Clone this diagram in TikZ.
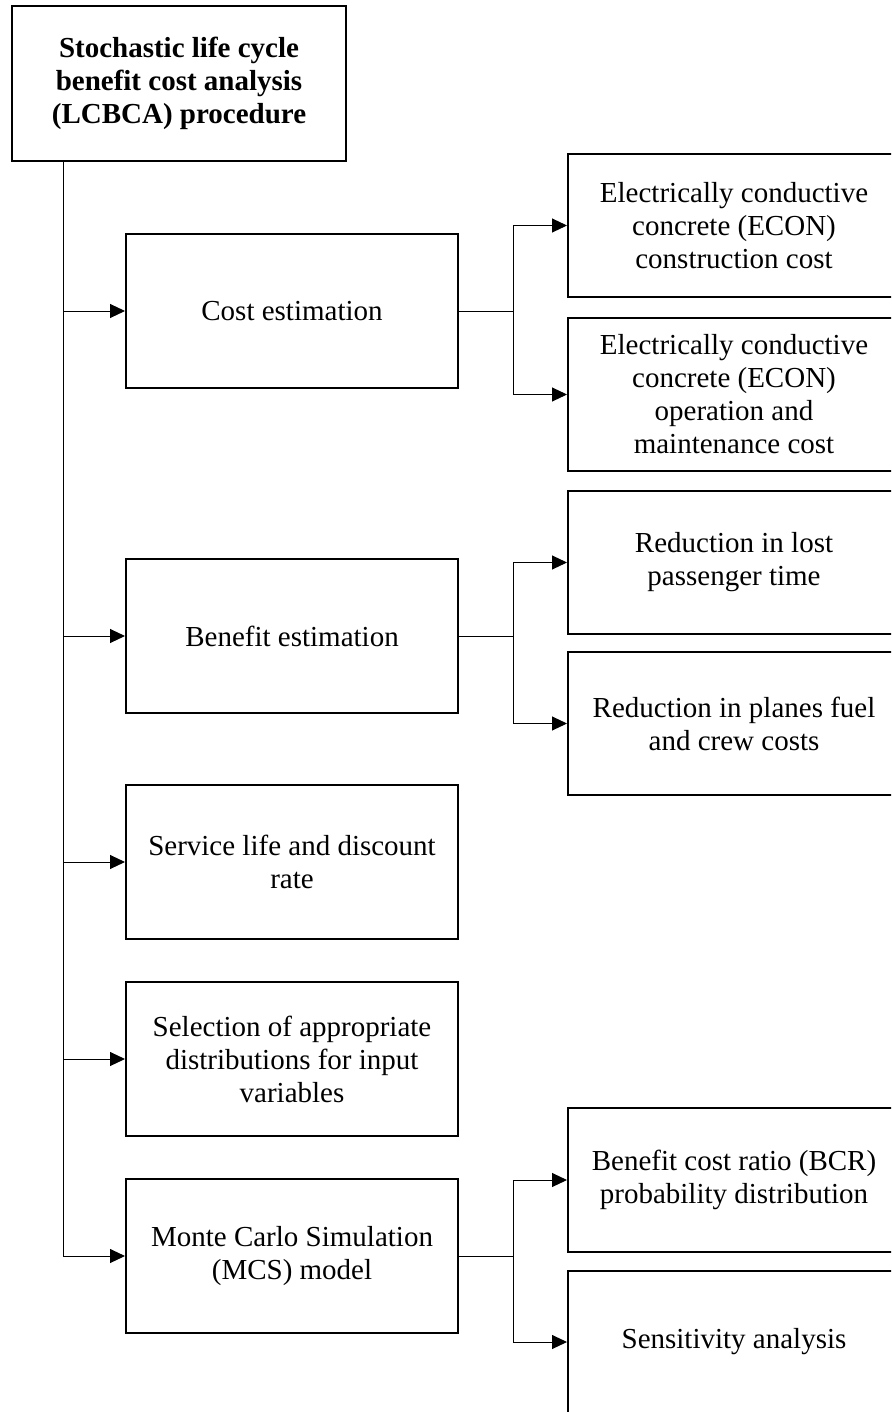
\documentclass[tikz,border=0pt]{standalone}
\usepackage{fontspec}
\setmainfont{Liberation Serif}
\usetikzlibrary{arrows.meta}
\begin{document}
\begin{tikzpicture}[x=1pt,y=-1pt,
  box/.style={draw,line width=2pt,rectangle,inner sep=0pt,align=center,
    font=\fontsize{29}{33}\selectfont},
  mid/.style={box,minimum width=332pt,minimum height=154pt},
  rbox/.style={box,minimum width=332pt},
  conn/.style={line width=1pt},
  arr/.style={conn,-{Triangle[length=15pt,width=14pt]}}]
\useasboundingbox (0,0) rectangle (891,1412);
\clip (0,0) rectangle (891,1412);
\fill[white] (0,0) rectangle (891,1412);
% top
\node[box,minimum width=334pt,minimum height=155pt,font=\fontsize{29}{33}\selectfont\bfseries] (top) at (179,83.5)
  {Stochastic life cycle\\benefit cost analysis\\(LCBCA) procedure};
% middle column
\node[mid] (cost) at (292,311) {Cost estimation};
\node[mid] (ben) at (292,636) {Benefit estimation};
\node[mid] (serv) at (292,862) {Service life and discount\\rate};
\node[mid] (sel) at (292,1059) {Selection of appropriate\\distributions for input\\variables};
\node[mid] (mcs) at (292,1256) {Monte Carlo Simulation\\(MCS) model};
% right column
\node[rbox,minimum height=143pt] (e1) at (734,225.5) {Electrically conductive\\concrete (ECON)\\construction cost};
\node[rbox,minimum height=153pt] (e2) at (734,394.5) {Electrically conductive\\concrete (ECON)\\operation and\\maintenance cost};
\node[rbox,minimum height=143pt] (r1) at (734,562.5) {Reduction in lost\\passenger time};
\node[rbox,minimum height=143pt] (r2) at (734,723.5) {Reduction in planes fuel\\and crew costs};
\node[rbox,minimum height=144pt] (b1) at (734,1180) {Benefit cost ratio (BCR)\\probability distribution};
\node[rbox,minimum height=142pt] (s1) at (734,1342) {Sensitivity analysis};
% spine
\coordinate (sx) at (63,0);
\draw[arr] (top.south -| sx) |- (mcs.west);
\draw[arr] (sx |- cost.west) -- (cost.west);
\draw[arr] (sx |- ben.west) -- (ben.west);
\draw[arr] (sx |- serv.west) -- (serv.west);
\draw[arr] (sx |- sel.west) -- (sel.west);
% branches
\coordinate (bx) at (513,0);
\draw[conn] (cost.east) -- (bx |- cost.east);
\draw[arr] (bx |- cost.east) |- (e1.west);
\draw[arr] (bx |- cost.east) |- (e2.west);
\draw[conn] (ben.east) -- (bx |- ben.east);
\draw[arr] (bx |- ben.east) |- (r1.west);
\draw[arr] (bx |- ben.east) |- (r2.west);
\draw[conn] (mcs.east) -- (bx |- mcs.east);
\draw[arr] (bx |- mcs.east) |- (b1.west);
\draw[arr] (bx |- mcs.east) |- (s1.west);
\end{tikzpicture}
\end{document}
